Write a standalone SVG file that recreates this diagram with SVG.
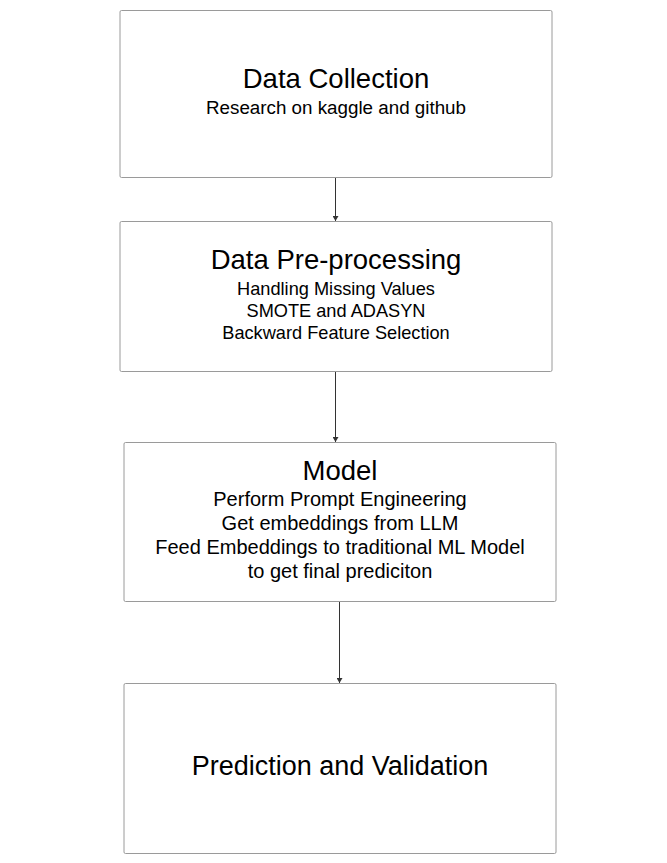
<svg xmlns="http://www.w3.org/2000/svg" width="667" height="863" viewBox="0 0 667 863">
<style>
.box{fill:#fff;stroke:#9a9a9a;stroke-width:1}
.t{font-family:"Liberation Sans",Arial,sans-serif;fill:#000;text-anchor:middle}
.h{font-size:27.5px}
.s1{font-size:18.8px}
.s2{font-size:18.2px}
.s3{font-size:20px}
.c{stroke:#333;stroke-width:1;fill:none}
</style>
<defs>
<marker id="ah" markerWidth="6" markerHeight="6" refX="5" refY="3" orient="auto" markerUnits="userSpaceOnUse">
<path d="M0,0 L5,3 L0,6 Z" fill="#333"/>
</marker>
</defs>
<rect width="667" height="863" fill="#fff"/>
<g id="n1">
<rect class="box" x="120" y="10.5" width="432" height="167" rx="1.5"/>
<text class="t h" x="336" y="88">Data Collection</text>
<text class="t s1" x="336" y="114">Research on kaggle and github</text>
</g>
<g id="n2">
<rect class="box" x="120" y="221.5" width="432" height="150" rx="1.5"/>
<text class="t h" x="336" y="269">Data Pre-processing</text>
<text class="t s2" x="336" y="295">Handling Missing Values</text>
<text class="t s2" x="336" y="317">SMOTE and ADASYN</text>
<text class="t s2" x="336" y="339">Backward Feature Selection</text>
</g>
<g id="n3">
<rect class="box" x="124" y="442.5" width="432" height="159" rx="1.5"/>
<text class="t h" x="340" y="480">Model</text>
<text class="t s3" x="340" y="506">Perform Prompt Engineering</text>
<text class="t s3" x="340" y="530">Get embeddings from LLM</text>
<text class="t s3" x="340" y="554">Feed Embeddings to traditional ML Model</text>
<text class="t s3" x="340" y="578">to get final prediciton</text>
</g>
<g id="n4">
<rect class="box" x="124" y="683.5" width="432" height="170" rx="1.5"/>
<text class="t h" x="340" y="775" style="font-size:27px">Prediction and Validation</text>
</g>
<g id="connectors">
<line class="c" x1="335.5" y1="178" x2="335.5" y2="221" marker-end="url(#ah)"/>
<line class="c" x1="335.5" y1="372" x2="335.5" y2="442" marker-end="url(#ah)"/>
<line class="c" x1="339.5" y1="602" x2="339.5" y2="683" marker-end="url(#ah)"/>
</g>
</svg>
